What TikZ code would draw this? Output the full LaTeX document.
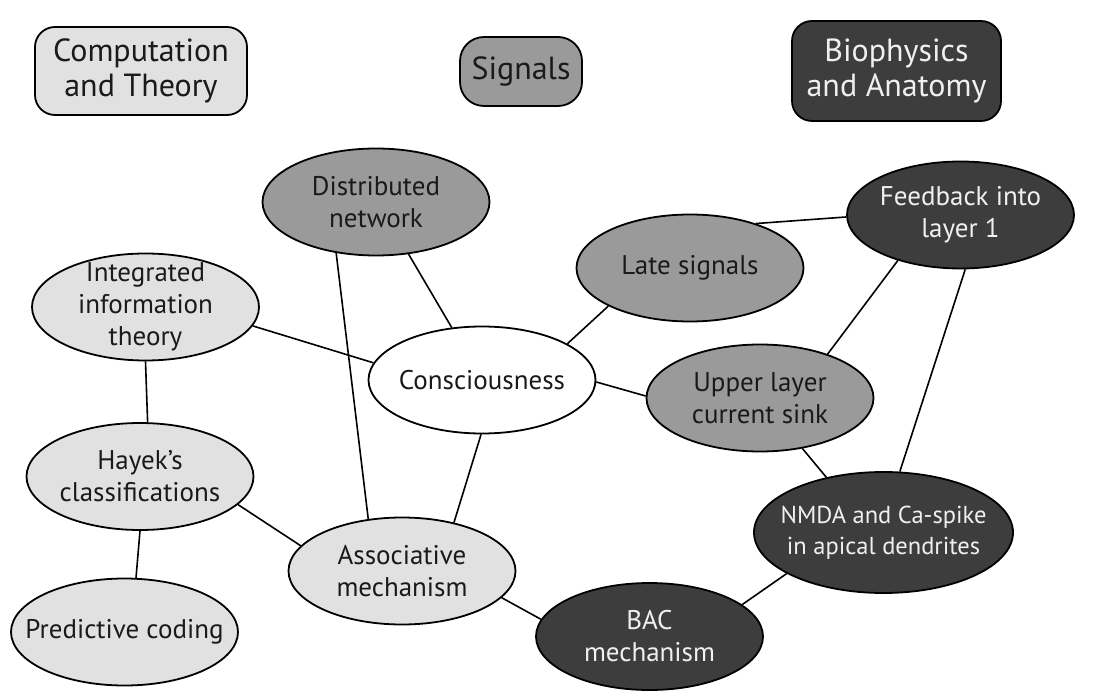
\documentclass[tikz,border=0pt]{standalone}
\usepackage{fontspec}
\setmainfont{PT Sans}
\usetikzlibrary{shapes.geometric}
\definecolor{lightg}{HTML}{E1E1E1}
\definecolor{midg}{HTML}{9A9A9A}
\definecolor{darkg}{HTML}{3D3D3D}
\definecolor{lighttext}{HTML}{F0F0F0}
\definecolor{darktext}{HTML}{1A1A1A}
\begin{document}
\begin{tikzpicture}[x=1pt,y=-1pt,
  bub/.style={ellipse, draw=black, line width=1.8pt, minimum width=227pt,
    minimum height=107pt, inner xsep=-40pt, inner ysep=-14pt, align=center,
    font=\fontsize{27}{32}\selectfont, text=darktext},
  lightbub/.style={bub, fill=lightg},
  midbub/.style={bub, fill=midg},
  darkbub/.style={bub, fill=darkg, text=lighttext},
  whitebub/.style={bub, fill=white},
  legend/.style={rectangle, rounded corners=20pt, draw=black, line width=1.8pt,
    inner sep=0pt, align=center, font=\fontsize{32}{35}\selectfont, text=darktext},
  link/.style={line width=1.6pt, draw=black}]
\useasboundingbox (0,0) rectangle (1102,700);
\fill[white] (0,0) rectangle (1102,700);

% legend
\node[legend, fill=lightg, minimum width=212pt, minimum height=88pt] (ct) at (141,71) {Computation\\and Theory};
\node[legend, fill=midg, minimum width=122pt, minimum height=69pt, rounded corners=24pt] (sg) at (521,71.5) {Signals};
\node[legend, fill=darkg, text=lighttext, minimum width=209pt, minimum height=100pt] (ba) at (896.5,71) {Biophysics\\and Anatomy};

% nodes
\node[midbub] (dn) at (376,202) {Distributed\\network};
\node[lightbub] (it) at (145.5,307) {Integrated\\information\\theory};
\node[whitebub] (co) at (482,380) {Consciousness};
\node[midbub] (ls) at (690,268) {Late signals};
\node[darkbub] (fb) at (960.5,215) {Feedback into\\layer 1};
\node[midbub] (ul) at (760,398) {Upper layer\\current sink};
\node[lightbub] (hk) at (140,476.5) {Hayek's\\classifications};
\node[lightbub] (pc) at (124.5,632) {Predictive coding};
\node[lightbub] (am) at (402,571) {Associative\\mechanism};
\node[darkbub, minimum width=259pt, minimum height=121pt, font=\fontsize{24.5}{31}\selectfont] (nm) at (883.5,532.5) {NMDA and Ca-spike\\in apical dendrites};
\node[darkbub] (bc) at (649.5,636.5) {BAC\\mechanism};

% links
\draw[link] (dn.232.6) -- (am.123.2);
\draw[link] (dn.302.7) -- (co.120);
\draw[link] (it.350) -- (co.171.7);
\draw[link] (it.270) -- (hk.82.5);
\draw[link] (hk.270) -- (pc.78);
\draw[link] (hk.344) -- (am.166);
\draw[link] (co.269) -- (am.43.3);
\draw[link] (am.345) -- (bc.171.2);
\draw[link] (bc.19) -- (nm.203);
\draw[link] (ls.205.4) -- (co.23.8);
\draw[link] (ls.34.3) -- (fb.181);
\draw[link] (ul.33.1) -- (fb.216.5);
\draw[link] (co.359) -- (ul.179.5);
\draw[link] (fb.275) -- (nm.75);
\draw[link] (ul.310) -- (nm.136.5);
\end{tikzpicture}
\end{document}
